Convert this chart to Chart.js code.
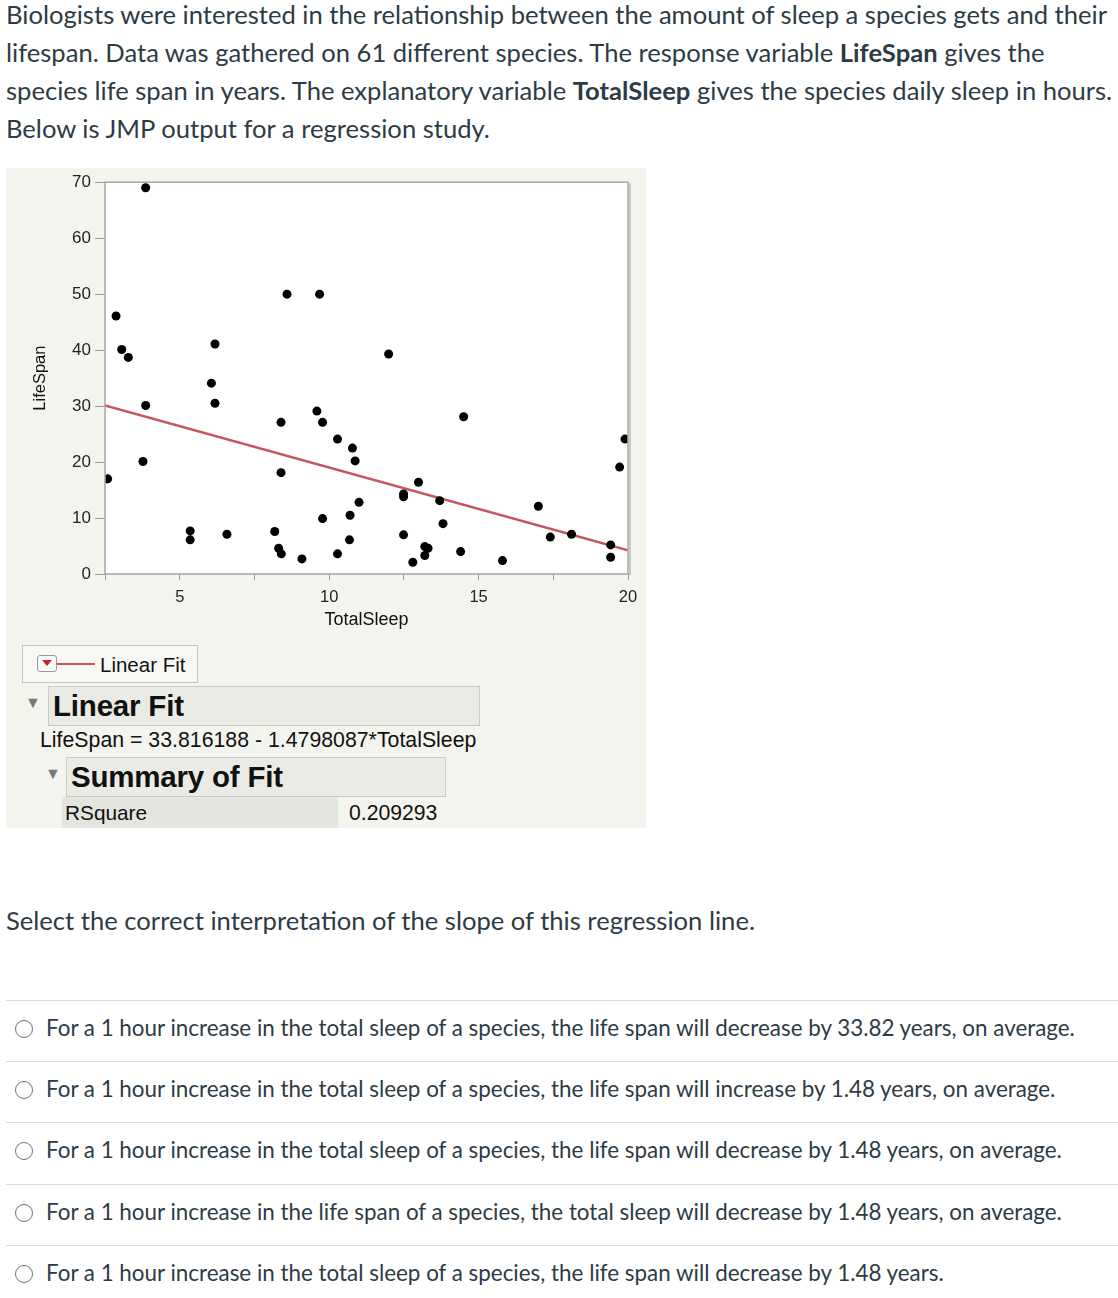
<!DOCTYPE html>
<html>
<head>
<meta charset="utf-8">
<title>LifeSpan vs TotalSleep</title>
<script src="https://cdn.jsdelivr.net/npm/chart.js@4.4.1/dist/chart.umd.min.js"></script>
<style>
body{margin:0;background:#fff;font-family:Lato,sans-serif;color:#2d3b45;width:1118px;height:1298px;position:relative;overflow:hidden}
.intro{position:absolute;left:6px;top:-5px;font-size:25.6px;line-height:38px;white-space:nowrap}
.panel{position:absolute;left:6px;top:168px;width:640px;height:660px;background:#f4f4ef;font-family:"Liberation Sans",Arial,sans-serif;color:#111}
#sleepChart{position:absolute;left:0;top:0}
.legbox{position:absolute;left:16px;top:477px;width:176px;height:38px;border:1px solid #c4c4c0;background:#f7f7f4;box-sizing:border-box}
.drop{position:absolute;left:14px;top:9px;width:20px;height:17px;border:1px solid #9a9a96;border-radius:3px;background:#fafafa;box-sizing:border-box}
.drop:after{content:"";position:absolute;left:4px;top:4px;border-left:5px solid transparent;border-right:5px solid transparent;border-top:6px solid #c0282e}
.legline{position:absolute;left:34px;top:17px;width:38px;height:2px;background:#c8545c}
.legtxt{position:absolute;left:77px;top:7px;font-size:20.5px}
.tri{position:absolute;font-size:16px;color:#777}
.head{position:absolute;background:#ebebe5;border:1px solid #cacac4;box-sizing:border-box;font-weight:bold;font-size:29.5px;padding-left:4px;line-height:38px;letter-spacing:-0.2px}
.eq{position:absolute;left:34px;top:560px;font-size:21.3px}
.rsq{position:absolute;left:56px;top:629px;width:276px;height:31px;background:#e5e5df;font-size:20.8px;line-height:31px;padding-left:3px;box-sizing:border-box}
.rval{position:absolute;left:343px;top:629px;font-size:21.2px;line-height:31px}
.q{position:absolute;left:6px;top:905px;font-size:25.6px;white-space:nowrap}
.opt{position:absolute;left:6px;width:1112px;height:61px;border-top:1px solid #dcdcdc;box-sizing:border-box}
.opt span{position:absolute;left:40px;top:13px;font-size:22.4px;white-space:nowrap}
.opt i{position:absolute;left:9px;top:19px;width:18px;height:18px;border:1.5px solid #707070;border-radius:50%;box-sizing:border-box}
</style>
</head>
<body>

<div class="intro">Biologists were interested in the relationship between the amount of sleep a species gets and their<br>lifespan. Data was gathered on 61 different species. The response variable <b>LifeSpan</b> gives the<br>species life span in years. The explanatory variable <b>TotalSleep</b> gives the species daily sleep in hours.<br>Below is JMP output for a regression study.</div>

<div class="panel">
  <canvas id="sleepChart" width="640" height="470"></canvas>
  <div class="legbox"><div class="drop"></div><div class="legline"></div><div class="legtxt">Linear Fit</div></div>
  <div class="tri" style="left:19px;top:526px">&#9660;</div>
  <div class="head" style="left:42px;top:518px;width:432px;height:40px">Linear Fit</div>
  <div class="eq">LifeSpan = 33.816188 - 1.4798087*TotalSleep</div>
  <div class="tri" style="left:39px;top:597px">&#9660;</div>
  <div class="head" style="left:60px;top:589px;width:380px;height:40px">Summary of Fit</div>
  <div class="rsq">RSquare</div>
  <div class="rval">0.209293</div>
</div>

<div class="q">Select the correct interpretation of the slope of this regression line.</div>

<div class="opt" style="top:1000px"><i></i><span>For a 1 hour increase in the total sleep of a species, the life span will decrease by 33.82 years, on average.</span></div>
<div class="opt" style="top:1061px"><i></i><span>For a 1 hour increase in the total sleep of a species, the life span will increase by 1.48 years, on average.</span></div>
<div class="opt" style="top:1122px"><i></i><span>For a 1 hour increase in the total sleep of a species, the life span will decrease by 1.48 years, on average.</span></div>
<div class="opt" style="top:1184px"><i></i><span>For a 1 hour increase in the life span of a species, the total sleep will decrease by 1.48 years, on average.</span></div>
<div class="opt" style="top:1245px"><i></i><span>For a 1 hour increase in the total sleep of a species, the life span will decrease by 1.48 years.</span></div>

<script>
'use strict'

// scatter data
const totalSleep = [3.86, 2.87, 3.06, 3.28, 6.18, 6.06, 8.59, 9.68, 11.99,
  3.86, 6.18, 2.59, 3.77, 5.35, 5.35, 6.58, 8.18, 8.31, 8.40, 9.09,
  8.39, 8.39, 9.59, 9.78, 9.78, 10.28, 10.78, 10.87, 14.50, 19.90,
  19.72, 12.99, 12.49, 12.49, 13.70, 11.00, 10.70, 10.68, 10.28, 13.81,
  12.49, 13.20, 13.31, 13.20, 12.80, 14.40, 15.80, 17.00, 17.40, 18.11,
  19.42, 19.42];
const lifeSpan = [69.0, 46.1, 40.1, 38.7, 41.1, 34.1, 50.0, 50.0, 39.3,
  30.1, 30.5, 17.0, 20.1, 7.7, 6.1, 7.1, 7.6, 4.6, 3.6, 2.7,
  27.1, 18.1, 29.1, 27.1, 9.9, 24.1, 22.5, 20.2, 28.1, 24.1,
  19.1, 16.4, 14.3, 13.8, 13.1, 12.8, 10.5, 6.1, 3.6, 9.0,
  7.0, 4.9, 4.6, 3.3, 2.1, 4.0, 2.4, 12.1, 6.6, 7.1,
  5.2, 3.0];

// fitted line end points
const fitX = [2.5, 20];
const fitY = [30.12, 4.22];

const xTicks = [2.5, 5, 7.5, 10, 12.5, 15, 17.5, 20];
const yTicks = [0, 10, 20, 30, 40, 50, 60, 70];

let points = [];
for (let i = 0; i < totalSleep.length; i++) {
  points.push({x: totalSleep[i], y: lifeSpan[i]});
}
let fitLine = fitX.map(function(x, i){ return {x: x, y: fitY[i]}; });

// white plot area and grey frame like JMP
const framePlugin = {
  id: 'frame',
  beforeDraw: function(chart) {
    const a = chart.chartArea, c = chart.ctx;
    c.save();
    c.fillStyle = '#ffffff';
    c.fillRect(a.left, a.top, a.right - a.left, a.bottom - a.top);
    c.restore();
  },
  afterDraw: function(chart) {
    const a = chart.chartArea, c = chart.ctx;
    c.save();
    c.strokeStyle = '#a6a6a6';
    c.lineWidth = 1.5;
    c.strokeRect(a.left, a.top, a.right - a.left, a.bottom - a.top);
    c.strokeStyle = '#c8c8c4';
    c.lineWidth = 2;
    c.beginPath();
    c.moveTo(a.right + 2, a.top + 1);
    c.lineTo(a.right + 2, a.bottom + 1);
    c.stroke();
    c.restore();
  }
};

const ctx = document.getElementById('sleepChart').getContext('2d');
const sleepChart = new Chart(ctx, {
  type: 'scatter',
  data: {
    datasets: [
      {
        label: 'Linear Fit',
        type: 'line',
        data: fitLine,
        borderColor: '#c8545c',
        borderWidth: 2.5,
        pointRadius: 0,
        fill: false,
        order: 2
      },
      {
        label: 'LifeSpan',
        data: points,
        backgroundColor: '#000000',
        borderWidth: 0,
        pointRadius: 4.5,
        order: 1
      }
    ]
  },
  options: {
    responsive: false,
    animation: false,
    layout: {padding: {top: 13, right: 18, left: 0, bottom: 0}},
    plugins: {legend: {display: false}, tooltip: {enabled: false}},
    scales: {
      x: {
        type: 'linear',
        min: 2.5,
        max: 20,
        afterBuildTicks: function(s){ s.ticks = xTicks.map(function(v){ return {value: v}; }); },
        afterFit: function(s){ s.height = 64; },
        border: {display: false},
        grid: {drawOnChartArea: false, drawTicks: true, tickLength: 6, color: '#999999'},
        ticks: {
          color: '#222222',
          font: {family: 'Liberation Sans', size: 16.5},
          padding: 8,
          maxRotation: 0,
          callback: function(v){ return v % 5 === 0 ? String(v) : ''; }
        },
        title: {display: true, text: 'TotalSleep', color: '#111111',
                font: {family: 'Liberation Sans', size: 18}, padding: {top: 0, bottom: 7}}
      },
      y: {
        type: 'linear',
        min: 0,
        max: 70,
        afterBuildTicks: function(s){ s.ticks = yTicks.map(function(v){ return {value: v}; }); },
        afterFit: function(s){ s.width = 99; },
        border: {display: false},
        grid: {drawOnChartArea: false, drawTicks: true, tickLength: 10, color: '#999999'},
        ticks: {color: '#222222', font: {family: 'Liberation Sans', size: 17}, padding: 4},
        title: {display: true, text: 'LifeSpan', color: '#111111',
                font: {family: 'Liberation Sans', size: 16.5}, padding: {top: 25, bottom: 0}}
      }
    }
  },
  plugins: [framePlugin]
});
</script>
</body>
</html>
